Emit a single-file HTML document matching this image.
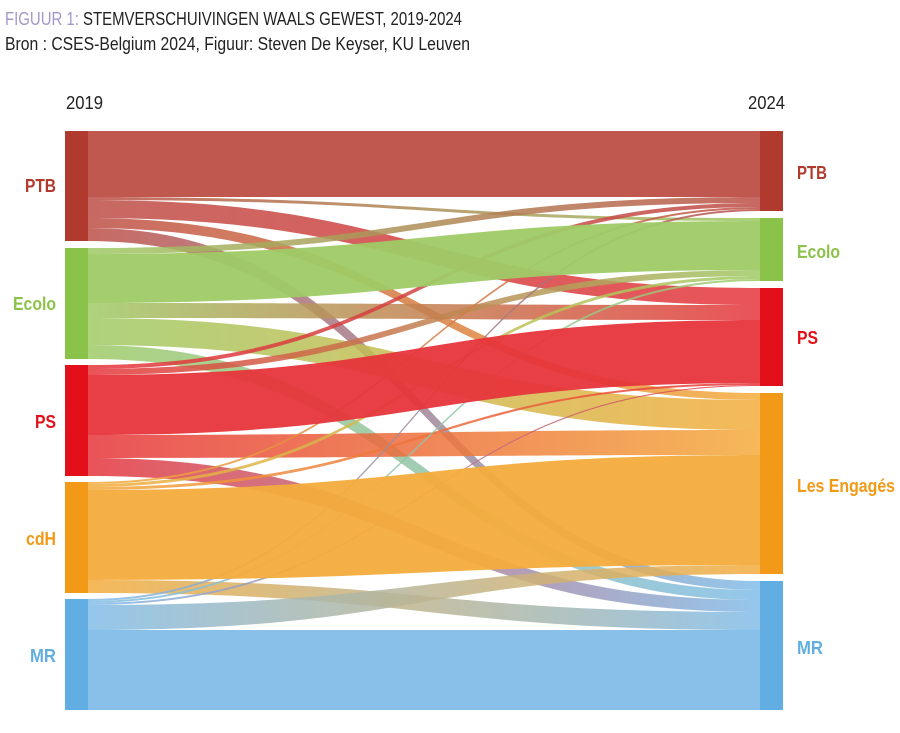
<!DOCTYPE html>
<html><head><meta charset="utf-8"><style>
body{margin:0;background:#fff;width:900px;height:733px;overflow:hidden;font-family:"Liberation Sans",sans-serif;}
svg{position:absolute;left:0;top:0}
</style></head><body>
<svg id="s" width="900" height="733" xmlns="http://www.w3.org/2000/svg">
<text x="5" y="25" font-size="18" fill="#222" textLength="457" lengthAdjust="spacingAndGlyphs"><tspan fill="#a497c8">FIGUUR 1: </tspan>STEMVERSCHUIVINGEN WAALS GEWEST, 2019-2024</text>
<text x="5" y="50" font-size="18" fill="#222" textLength="465" lengthAdjust="spacingAndGlyphs">Bron : CSES-Belgium 2024, Figuur: Steven De Keyser, KU Leuven</text>
<text x="66" y="109" font-size="18" fill="#222" textLength="37" lengthAdjust="spacingAndGlyphs">2019</text>
<text x="748" y="109" font-size="18" fill="#222" textLength="37" lengthAdjust="spacingAndGlyphs">2024</text>
<g id="flows"></g><g id="nodes"></g>
<g font-weight="bold" font-size="18" lengthAdjust="spacingAndGlyphs">
<text x="25" y="192" fill="#b03a2e" textLength="31" lengthAdjust="spacingAndGlyphs">PTB</text>
<text x="13" y="310" fill="#8bc34a" textLength="43" lengthAdjust="spacingAndGlyphs">Ecolo</text>
<text x="35" y="428" fill="#e30f1a" textLength="21" lengthAdjust="spacingAndGlyphs">PS</text>
<text x="26" y="545" fill="#f29a17" textLength="30" lengthAdjust="spacingAndGlyphs">cdH</text>
<text x="30" y="662" fill="#62aee3" textLength="26" lengthAdjust="spacingAndGlyphs">MR</text>
<text x="797" y="179" fill="#b03a2e" textLength="30" lengthAdjust="spacingAndGlyphs">PTB</text>
<text x="797" y="258" fill="#8bc34a" textLength="43" lengthAdjust="spacingAndGlyphs">Ecolo</text>
<text x="797" y="344" fill="#e30f1a" textLength="21" lengthAdjust="spacingAndGlyphs">PS</text>
<text x="797" y="492" fill="#f29a17" textLength="98" lengthAdjust="spacingAndGlyphs">Les Engagés</text>
<text x="797" y="654" fill="#62aee3" textLength="26" lengthAdjust="spacingAndGlyphs">MR</text>
</g>
</svg>
<script>
var NS="http://www.w3.org/2000/svg";
var fc=["#bd4f47","#9fcb66","#e6353b","#f4ac3c","#82bde9"];
var nc=["#b03a2e","#8bc34a","#e30f1a","#f29a17","#62aee3"];
var L=[[131,241],[248,359],[365,476],[482,593],[599,710]];
var R=[[131,211],[218,281],[288,386],[393,574],[581,710]];
var ls=[[131,197,200,218,228,241],[248,254,303,318,345,359],[365,369,375,435,458,476],[482,484,487,490,580,593],[599,601,603,605,630,710]];
var rs=[[131,197,203,207,209,211],[218,221,270,276,279,281],[288,305,320,383,385,386],[393,400,430,455,565,574],[581,590,600,612,630,710]];
var fl=document.getElementById("flows"),defs=document.createElementNS(NS,"defs");
document.getElementById("s").insertBefore(defs,fl);
var x0=88,x1=760,xm=424,k=0;
var order=[];
for(var i=0;i<5;i++)for(var j=0;j<5;j++)if(i!=j)order.push([i,j]);
for(var i=0;i<5;i++)order.push([i,i]);
order.forEach(function(p){
 var i=p[0],j=p[1];
 var a=ls[i][j],b=ls[i][j+1],c=rs[j][i],d=rs[j][i+1];
 var g=document.createElementNS(NS,"linearGradient");g.setAttribute("id","g"+k);
 g.setAttribute("gradientUnits","userSpaceOnUse");g.setAttribute("x1",x0);g.setAttribute("x2",x1);g.setAttribute("y1",0);g.setAttribute("y2",0);
 g.innerHTML='<stop offset="0" stop-color="'+fc[i]+'"/><stop offset="1" stop-color="'+fc[j]+'"/>';
 defs.appendChild(g);
 var pa=document.createElementNS(NS,"path");
 pa.setAttribute("d","M"+x0+" "+a+"C"+xm+" "+a+" "+xm+" "+c+" "+x1+" "+c+"L"+x1+" "+d+"C"+xm+" "+d+" "+xm+" "+b+" "+x0+" "+b+"Z");
 pa.setAttribute("fill","url(#g"+k+")");pa.setAttribute("fill-opacity",i==j?"0.95":"0.85");
 fl.appendChild(pa);k++;
});
var nd=document.getElementById("nodes");
function rect(x,y,h,c){var r=document.createElementNS(NS,"rect");r.setAttribute("x",x);r.setAttribute("y",y);r.setAttribute("width",23);r.setAttribute("height",h);r.setAttribute("fill",c);nd.appendChild(r);}
for(var i=0;i<5;i++){rect(65,L[i][0],L[i][1]-L[i][0],nc[i]);rect(760,R[i][0],R[i][1]-R[i][0],nc[i]);}
</script>
</body></html>
